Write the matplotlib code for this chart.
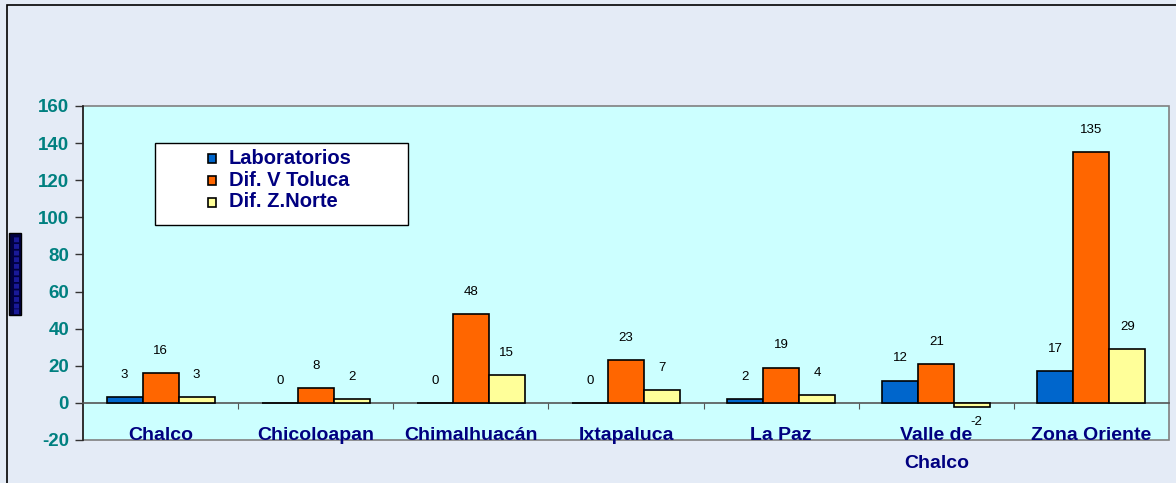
import matplotlib.pyplot as plt
import numpy as np
from matplotlib.patches import Rectangle

plt.rcParams['font.family'] = ['Liberation Sans', 'DejaVu Sans']
plt.rcParams['axes.unicode_minus'] = False

categories = ['Chalco', 'Chicoloapan', 'Chimalhuacán', 'Ixtapaluca', 'La Paz', 'Valle de\nChalco', 'Zona Oriente']
laboratorios = [3, 0, 0, 0, 2, 12, 17]
dif_toluca = [16, 8, 48, 23, 19, 21, 135]
dif_norte = [3, 2, 15, 7, 4, -2, 29]
series_names = ['Laboratorios', 'Dif. V Toluca', 'Dif. Z.Norte']
colors = ['#0066CC', '#FF6600', '#FFFF99']
yticks = [-20, 0, 20, 40, 60, 80, 100, 120, 140, 160]

fig = plt.figure(figsize=(11.76, 4.83), dpi=100)
fig.patch.set_facecolor('#E4EBF6')
fig.patches.append(Rectangle((7 / 1176, -0.05), 1.1, 1 - 5 / 483 + 0.05, transform=fig.transFigure,
                             fill=False, edgecolor='black', linewidth=1.2))

ax = fig.add_axes([83 / 1176, 1 - 440 / 483, 1086 / 1176, 334 / 483])
ax.set_facecolor('#CCFFFF')
ax.patch.set_edgecolor('#808080')
ax.patch.set_linewidth(1.2)

x = np.arange(len(categories))
w = 0.232
for k, (vals, name, c) in enumerate(zip([laboratorios, dif_toluca, dif_norte], series_names, colors)):
    bars = ax.bar(x + (k - 1) * w, vals, w, color=c, edgecolor='black', linewidth=1.2, label=name, zorder=3)
    for b, v in zip(bars, vals):
        cx = b.get_x() + b.get_width() / 2
        if v >= 0:
            ax.annotate(str(v), (cx, v), xytext=(0, 16), textcoords='offset points',
                        ha='center', va='center', fontsize=9.5, color='black')
        else:
            ax.annotate(str(v), (cx, v), xytext=(3, -11), textcoords='offset points',
                        ha='center', va='center', fontsize=9.5, color='black')

ax.set_xlim(-0.5, len(categories) - 0.5)
ax.set_ylim(-20, 160)
ax.set_yticks(yticks)
ax.tick_params(axis='y', direction='out', length=6, width=1, color='#333333',
               labelcolor='#008080', labelsize=13.5, pad=4)
for t in ax.get_yticklabels():
    t.set_fontweight('bold')

for s in ['top', 'right']:
    ax.spines[s].set_visible(False)
ax.spines['left'].set_color('#222222')
ax.spines['left'].set_linewidth(1.2)
ax.spines['bottom'].set_position(('data', 0))
ax.spines['bottom'].set_color('#555555')
ax.spines['bottom'].set_linewidth(1.2)

ax.set_xticks(np.arange(0.5, len(categories) - 0.5, 1))
ax.set_xticklabels([])
ax.tick_params(axis='x', which='major', direction='out', length=4, color='#555555')
ax.set_xticks(x, minor=True)
ax.set_xticklabels(categories, minor=True, fontsize=14, fontweight='bold', color='#000080',
                   linespacing=1.85)
ax.tick_params(axis='x', which='minor', length=0, pad=17)

# legend frame drawn separately, wider than the legend content
ax.add_patch(Rectangle((0.0663, 0.644), 0.233, 0.245, transform=ax.transAxes,
                       facecolor='white', edgecolor='black', linewidth=1, zorder=4))
leg = ax.legend(loc='upper left', bbox_to_anchor=(0.115, 0.872), frameon=False,
                handlelength=0.6, handleheight=0.6, handletextpad=0.9,
                borderpad=0, labelspacing=0.2, borderaxespad=0)
for t in leg.get_texts():
    t.set_color('#000080')
    t.set_fontweight('bold')
    t.set_fontsize(14.5)
leg.set_zorder(5)

fig.text(15 / 1176, 1 - 274 / 483, '▪' * 12, rotation=90, color='#1a1a99', fontsize=7,
         ha='center', va='center', family='DejaVu Sans',
         bbox=dict(boxstyle='square,pad=0.15', facecolor='#000040', edgecolor='black'))

fig.savefig('out.png', dpi=100, facecolor=fig.get_facecolor())
